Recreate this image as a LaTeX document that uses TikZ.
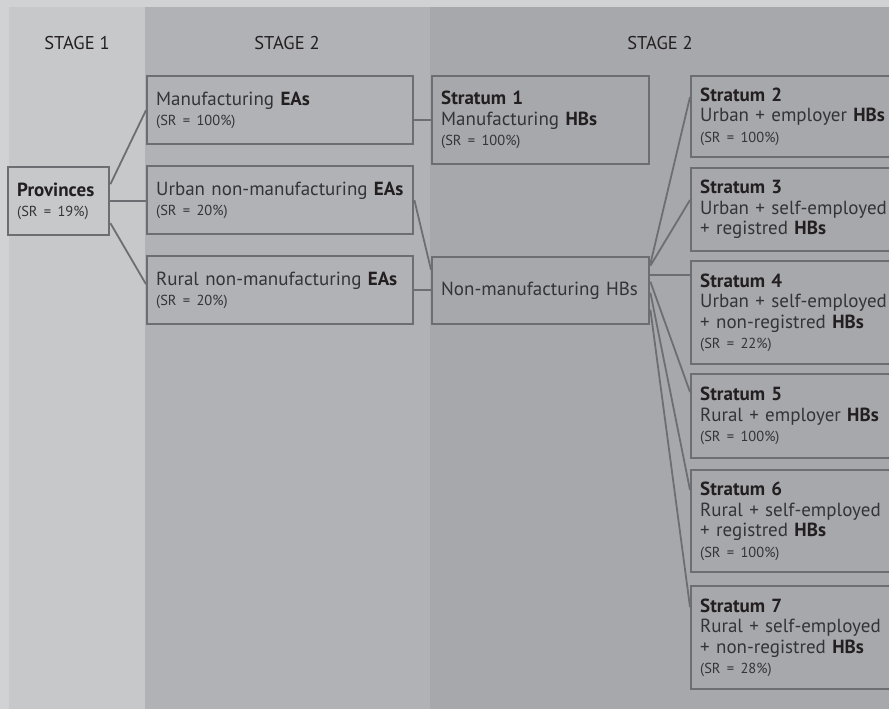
\documentclass[tikz,border=0pt]{standalone}
\usepackage{fontspec}
\setmainfont{PT Sans}
\usepackage{tikz}
\definecolor{outerbg}{RGB}{209,210,212}
\definecolor{stageone}{RGB}{199,200,202}
\definecolor{stagetwo}{RGB}{177,178,182}
\definecolor{stagethree}{RGB}{167,168,172}
\definecolor{boxline}{RGB}{109,110,113}
\definecolor{txtgray}{RGB}{52,52,54}
\definecolor{txtdark}{RGB}{35,31,32}
\newcommand{\hb}[1]{\textbf{\color{txtdark}#1}}
\newcommand{\sr}[1]{{\fontsize{14.5}{16}\selectfont (SR = #1)}}
\tikzset{
	box/.style={draw=boxline, line width=2.4pt, anchor=north west, align=left,
		inner xsep=9pt, inner ysep=0pt, text=txtgray,
		font=\fontsize{19}{20.5}\selectfont},
	stagelabel/.style={text=txtdark, font=\fontsize{18.5}{20}\selectfont},
	link/.style={draw=boxline, line width=1.8pt}
}

\begin{document}
\begin{tikzpicture}[x=1pt, y=-1pt]
\clip (0,0) rectangle (889,709);
%%%% -----------Baggrund + kolonner-------------%%%%
\fill [outerbg]		(0,0) rectangle (889,709)		;
\fill [stageone]	(9,7) rectangle (145,709)		;
\fill [stagetwo]	(145,7) rectangle (430,709)		;
\fill [stagethree]	(430,7) rectangle (889,709)		;

\node [stagelabel] (st1) at (77,43) {STAGE 1}			;
\node [stagelabel] (st2) at (287,43) {STAGE 2}			;
\node [stagelabel] (st3) at (660,43) {STAGE 2}			;

%%%----------Stage 1---------%%%
\node [box, text width=83, minimum height=68] (prov) at (7,166)
	{\hb{Provinces}\\ \sr{19\%}}							;

%%%----------Stage 2: EAs---------%%%
\node [box, text width=248, minimum height=68] (manEA) at (146,75)
	{Manufacturing \hb{EAs}\\ \sr{100\%}}					;
\node [box, text width=248, minimum height=68] (urbEA) at (146,165)
	{Urban non-manufacturing \hb{EAs}\\ \sr{20\%}}			;
\node [box, text width=248, minimum height=68] (rurEA) at (146,255)
	{Rural non-manufacturing \hb{EAs}\\ \sr{20\%}}			;

%%%----------Stage 2: HBs---------%%%
\node [box, text width=199, minimum height=88] (str1) at (431,75)
	{\hb{Stratum 1}\\ Manufacturing \hb{HBs}\\ \sr{100\%}}	;
\node [box, text width=199, minimum height=67] (nonman) at (431,256)
	{Non-manufacturing HBs}								;

%%%----------Strata---------%%%
\node [box, text width=202, minimum height=81] (str2) at (690,75)
	{\hb{Stratum 2}\\ Urban + employer \hb{HBs}\\ \sr{100\%}}	;
\node [box, text width=202, minimum height=83] (str3) at (690,167)
	{\hb{Stratum 3}\\ Urban + self-employed\\ + registred \hb{HBs}}	;
\node [box, text width=202, minimum height=103] (str4) at (690,260)
	{\hb{Stratum 4}\\ Urban + self-employed\\ + non-registred \hb{HBs}\\ \sr{22\%}}	;
\node [box, text width=202, minimum height=84] (str5) at (690,373)
	{\hb{Stratum 5}\\ Rural + employer \hb{HBs}\\ \sr{100\%}}	;
\node [box, text width=202, minimum height=102] (str6) at (690,469)
	{\hb{Stratum 6}\\ Rural + self-employed\\ + registred \hb{HBs}\\ \sr{100\%}}	;
\node [box, text width=202, minimum height=103] (str7) at (690,585)
	{\hb{Stratum 7}\\ Rural + self-employed\\ + non-registred \hb{HBs}\\ \sr{28\%}}	;

%%%-------------Forbindelser-------------%%%
\coordinate (provmid) at (prov.east)						;
\coordinate (nonmid) at ([yshift=16pt]nonman.east)			;
\draw [link] ([yshift=17pt]prov.east) -- (manEA.west)		;
\draw [link] (provmid) -- (provmid -| urbEA.west)			;
\draw [link] ([yshift=-22pt]prov.east) -- ([yshift=6pt]rurEA.west)	;

\draw [link] (manEA.east |- str1.west) -- (str1.west)		;
\draw [link] (urbEA.east) -- ([yshift=21pt]nonman.west)	;
\draw [link] (rurEA.east) -- (rurEA.east -| nonman.west)	;

\draw [link] ([yshift=27pt]nonman.east) -- ([yshift=-22pt]str2.north west)	;
\draw [link] ([yshift=25pt]nonman.east) -- ([yshift=-33pt]str3.north west)	;
\draw [link] (nonmid) -- (nonmid -| str4.west)				;
\draw [link] ([yshift=9pt]nonman.east) -- ([yshift=-19pt]str5.north west)	;
\draw [link] ([yshift=-2pt]nonman.east) -- ([yshift=-21pt]str6.north west)	;
\draw [link] ([yshift=-19pt]nonman.east) -- ([yshift=-22pt]str7.north west)	;
\end{tikzpicture}
\end{document}
